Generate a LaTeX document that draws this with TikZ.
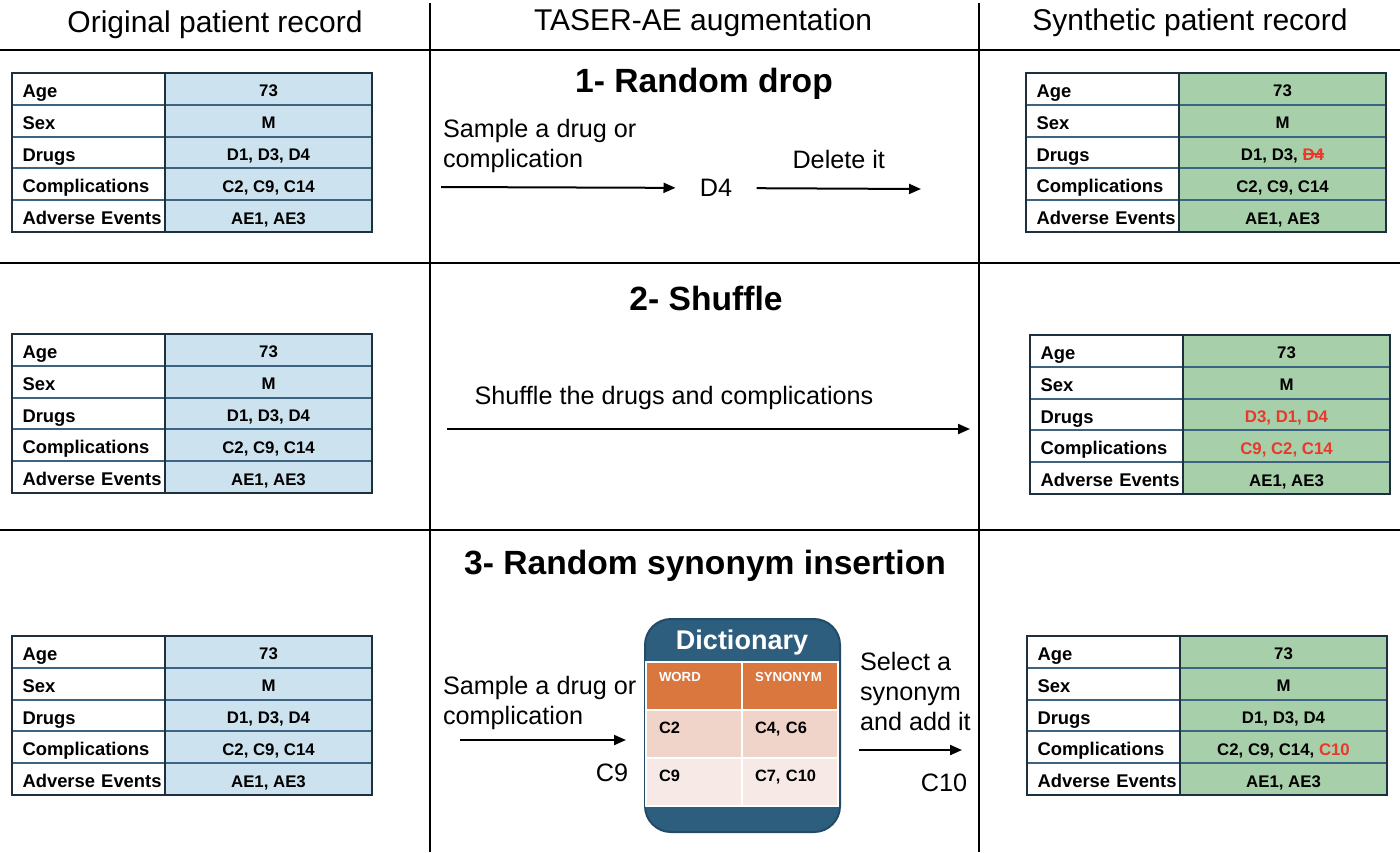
\documentclass[tikz,border=0pt]{standalone}
\usepackage{fontspec}
\setmainfont{Liberation Sans}
\usetikzlibrary{arrows.meta,positioning}

\definecolor{recblue}{HTML}{CCE2EE}
\definecolor{recgreen}{HTML}{A7CFA9}
\definecolor{recframe}{HTML}{1C3040}
\definecolor{recline}{HTML}{3D6383}
\definecolor{changed}{HTML}{E8392B}
\definecolor{dictblue}{HTML}{2D5E7E}
\definecolor{dictorange}{HTML}{D9773F}
\definecolor{dictrowA}{HTML}{F0D4CA}
\definecolor{dictrowB}{HTML}{F7EAE6}

% struck out text, rule in the current colour
\newcommand{\struck}[1]{\leavevmode\setbox0\hbox{#1}\rlap{\rule[0.33em]{\wd0}{0.09em}}\box0}

\tikzset{
  	cellname/.style = {% left column of a patient record
    	draw=recline, line width=1pt, fill=white, outer sep=0pt,
    	minimum width=76.5pt, minimum height=15.9pt,
    	text width=66pt, inner xsep=5.25pt, inner ysep=1pt, align=left,
    	text height=9.5pt, text depth=0.9pt,
    	font=\fontsize{9.2}{11}\selectfont\bfseries,
  	},
  	cellvalue/.style = {% right column, coloured
    	draw=recline, line width=1pt, fill=#1, outer sep=0pt,
    	minimum width=103.5pt, minimum height=15.9pt, inner ysep=1pt,
    	text height=8.8pt, text depth=0.8pt,
    	font=\fontsize{8.4}{10}\selectfont\bfseries,
  	},
  	cellvalue/.default = {recblue},
  	header/.style = {font=\fontsize{15}{18}\selectfont},
  	method/.style = {font=\fontsize{16.8}{20}\selectfont\bfseries},
  	txt/.style = {font=\fontsize{12.6}{15}\selectfont, align=left},
  	flow/.style = {line width=1pt, -{Triangle[length=6pt,width=5pt]}},
  	dicthead/.style = {% orange head of the dictionary
    	fill=dictorange, draw=white, line width=1pt, text=white, outer sep=0pt,
    	minimum width=48pt, minimum height=24pt,
    	text width=35pt, inner xsep=6.5pt, align=left, text depth=9pt,
    	font=\fontsize{6.6}{8}\selectfont\bfseries,
  	},
  	dictrow/.style = {
    	fill=#1, draw=white, line width=1pt, outer sep=0pt,
    	minimum width=48pt, minimum height=24pt,
    	text width=35pt, inner xsep=6.5pt, align=left, text depth=6pt,
    	font=\fontsize{8.2}{10}\selectfont\bfseries,
  	}
	}

% one patient record: name, top left corner, fill, five values
\newcommand{\patientrecord}[8]{
  	\node[cellname, anchor=north west] (#1-1) at (#2) {Age};
  	\node[cellname, below=0pt of #1-1] (#1-2) {Sex};
  	\node[cellname, below=0pt of #1-2] (#1-3) {Drugs};
  	\node[cellname, below=0pt of #1-3] (#1-4) {Complications};
  	\node[cellname, below=0pt of #1-4] (#1-5) {\mbox{Adverse Events}};
  	\node[cellvalue=#3, right=0pt of #1-1] (#1-v1) {#4};
  	\node[cellvalue=#3, right=0pt of #1-2] (#1-v2) {#5};
  	\node[cellvalue=#3, right=0pt of #1-3] (#1-v3) {#6};
  	\node[cellvalue=#3, right=0pt of #1-4] (#1-v4) {#7};
  	\node[cellvalue=#3, right=0pt of #1-5] (#1-v5) {#8};
  	\draw[recframe, line width=1.1pt] (#1-1.north east) -- (#1-5.south east);
  	\draw[recframe, line width=1.3pt] (#1-1.north west) rectangle (#1-v5.south east);
}

\begin{document}
\begin{tikzpicture}[x=0.5pt, y=-0.5pt]
    	\useasboundingbox (0,0) rectangle (1400,852);
    	% grid of the figure
    	\draw[line width=1.4pt] (0,50) -- (1400,50);
    	\draw[line width=1pt] (0,263) -- (1400,263);
    	\draw[line width=1pt] (0,530) -- (1400,530);
    	\draw[line width=0.8pt] (430,3) -- (430,852);
    	\draw[line width=0.8pt] (979,3) -- (979,852);
    	\node[header] (hOrig) at (215,25) {Original patient record};
    	\node[header] (hAug) at (703,23) {TASER-AE augmentation};
    	\node[header] (hSyn) at (1190,23) {Synthetic patient record};

    	% 1- random drop
    	\patientrecord{L1}{12,73}{recblue}{73}{M}{D1, D3, D4}{C2, C9, C14}{AE1, AE3}
    	\patientrecord{R1}{1026,73}{recgreen}{73}{M}{D1, D3, {\color{changed}\struck{D4}}}{C2, C9, C14}{AE1, AE3}
    	\node[method] (m1) at (704,84) {1- Random drop};
    	\node[txt, anchor=west] (t1) at (436,146) {Sample a drug or\\complication};
    	\coordinate (s1) at (441,187);
    	\coordinate (e1) at (921,189);
    	\node[txt, inner xsep=12pt] (d4) at (716,188) {D4};
    	\draw[flow] (s1) -- (d4);
    	\draw[flow] (d4) -- (e1) node[txt, midway, above=6pt] (t1b) {Delete it};

    	% 2- shuffle
    	\patientrecord{L2}{12,334}{recblue}{73}{M}{D1, D3, D4}{C2, C9, C14}{AE1, AE3}
    	\patientrecord{R2}{1030,335}{recgreen}{73}{M}{\color{changed}D3, D1, D4}{\color{changed}C9, C2, C14}{AE1, AE3}
    	\node[method] (m2) at (706,298) {2- Shuffle};
    	\coordinate (s2) at (447,429);
    	\coordinate (e2) at (970,429);
    	\draw[flow] (s2) -- (e2) node[txt, pos=0.434, above=6pt] (t2) {Shuffle the drugs and complications};

    	% 3- random synonym insertion
    	\patientrecord{L3}{12,636}{recblue}{73}{M}{D1, D3, D4}{C2, C9, C14}{AE1, AE3}
    	\patientrecord{R3}{1027,636}{recgreen}{73}{M}{D1, D3, D4}{C2, C9, C14, {\color{changed}C10}}{AE1, AE3}
    	\node[method] (m3) at (705,566) {3- Random synonym insertion};
    	\node[draw=dictblue!80!black, line width=1pt, fill=dictblue, rounded corners=13pt,
    	      minimum width=97.5pt, minimum height=106.5pt] (dict) at (742.5,725.5) {};
    	\node[text=white, font=\fontsize{13.5}{16}\selectfont\bfseries] (dict-title) at (742,643) {Dictionary};
    	\node[dicthead, anchor=north west] (dict-word) at (646,662) {WORD};
    	\node[dicthead, right=0pt of dict-word] (dict-syn) {SYNONYM};
    	\node[dictrow=dictrowA, below=0pt of dict-word] (dict-w1) {C2};
    	\node[dictrow=dictrowA, right=0pt of dict-w1] (dict-s1) {C4, C6};
    	\node[dictrow=dictrowB, below=0pt of dict-w1] (dict-w2) {C9};
    	\node[dictrow=dictrowB, right=0pt of dict-w2] (dict-s2) {C7, C10};
    	\node[txt, anchor=west] (t3) at (436,703) {Sample a drug or\\complication};
    	\coordinate (s3) at (460,740);
    	\draw[flow, shorten >=9pt] (s3) -- (s3 -| dict.west);
    	\node[txt] (c9) at (612,773) {C9};
    	\node[txt, anchor=west] (t3b) at (853,691) {Select a\\synonym\\and add it};
    	\coordinate (e3) at (962,750);
    	\draw[flow, shorten <=9pt] (dict.east |- e3) -- (e3);
    	\node[txt] (c10) at (944,783) {C10};
 	\end{tikzpicture}
\end{document}
